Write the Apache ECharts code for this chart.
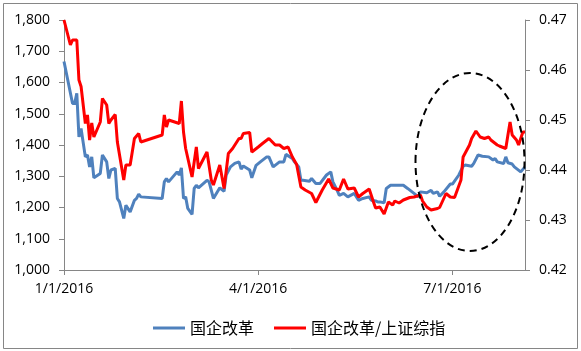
<!DOCTYPE html>
<html>
<head>
<meta charset="utf-8">
<script src="https://cdn.jsdelivr.net/npm/echarts@6/dist/echarts.min.js"></script>
<style>
  html, body { margin: 0; padding: 0; background: #fff; }
  #chart { width: 581px; height: 351px; }
</style>
</head>
<body>
<div id="chart"></div>
<script>
// 国企改革 指数 与 国企改革/上证综指 比值, 2016
var blueDates = [
  '2016-01-01', '2016-01-05', '2016-01-06', '2016-01-07', '2016-01-08', '2016-01-09', '2016-01-11', '2016-01-12',
  '2016-01-13', '2016-01-14', '2016-01-15', '2016-01-18', '2016-01-19', '2016-01-21', '2016-01-22', '2016-01-23',
  '2016-01-25', '2016-01-26', '2016-01-27', '2016-01-29', '2016-01-30', '2016-02-01', '2016-02-03', '2016-02-04',
  '2016-02-05', '2016-02-06', '2016-02-16', '2016-02-17', '2016-02-18', '2016-02-19', '2016-02-23', '2016-02-24',
  '2016-02-25', '2016-02-26', '2016-02-27', '2016-02-28', '2016-03-01', '2016-03-02', '2016-03-03', '2016-03-04',
  '2016-03-08', '2016-03-09', '2016-03-11', '2016-03-14', '2016-03-16', '2016-03-17', '2016-03-19', '2016-03-21',
  '2016-03-23', '2016-03-24', '2016-03-25', '2016-03-28', '2016-03-29', '2016-03-31', '2016-04-02', '2016-04-05',
  '2016-04-06', '2016-04-08', '2016-04-11', '2016-04-13', '2016-04-14', '2016-04-17', '2016-04-18', '2016-04-20',
  '2016-04-21', '2016-04-22', '2016-04-25', '2016-04-26', '2016-04-28', '2016-04-30', '2016-05-03', '2016-05-05',
  '2016-05-06', '2016-05-08', '2016-05-09', '2016-05-11', '2016-05-13', '2016-05-16', '2016-05-18', '2016-05-20',
  '2016-05-23', '2016-05-24', '2016-05-26', '2016-05-27', '2016-05-28', '2016-05-30', '2016-05-31', '2016-06-02',
  '2016-06-08', '2016-06-10', '2016-06-13', '2016-06-15', '2016-06-16', '2016-06-19', '2016-06-21', '2016-06-22',
  '2016-06-24', '2016-06-25', '2016-06-27', '2016-06-30', '2016-07-01', '2016-07-04', '2016-07-06', '2016-07-07',
  '2016-07-10', '2016-07-11', '2016-07-13', '2016-07-15', '2016-07-18', '2016-07-20', '2016-07-21', '2016-07-22',
  '2016-07-25', '2016-07-26', '2016-07-27', '2016-07-29', '2016-07-30', '2016-08-02', '2016-08-04'
];
var blueValues = [
  1667, 1533, 1533, 1565, 1426, 1453, 1362, 1368,
  1330, 1362, 1295, 1309, 1368, 1346, 1293, 1320,
  1325, 1229, 1218, 1165, 1207, 1186, 1223, 1229,
  1243, 1234, 1229, 1282, 1293, 1282, 1314, 1304,
  1327, 1229, 1234, 1197, 1178, 1261, 1271, 1263,
  1287, 1282, 1229, 1263, 1252, 1304, 1330, 1341,
  1346, 1323, 1333, 1320, 1295, 1335, 1346, 1362,
  1362, 1330, 1346, 1346, 1370, 1357, 1346, 1330,
  1287, 1287, 1284, 1293, 1277, 1277, 1304, 1314,
  1282, 1255, 1239, 1245, 1234, 1245, 1223, 1229,
  1234, 1223, 1221, 1218, 1218, 1215, 1261, 1271,
  1271, 1261, 1245, 1234, 1250, 1247, 1255, 1245,
  1250, 1236, 1250, 1275, 1275, 1304, 1332, 1336,
  1332, 1341, 1368, 1364, 1362, 1352, 1357, 1346,
  1341, 1362, 1343, 1339, 1330, 1314, 1330
];
var redDates = [
  '2016-01-01', '2016-01-04', '2016-01-05', '2016-01-07', '2016-01-08', '2016-01-09', '2016-01-11', '2016-01-12',
  '2016-01-13', '2016-01-14', '2016-01-15', '2016-01-18', '2016-01-19', '2016-01-21', '2016-01-22', '2016-01-23',
  '2016-01-25', '2016-01-26', '2016-01-29', '2016-01-30', '2016-02-01', '2016-02-03', '2016-02-05', '2016-02-06',
  '2016-02-16', '2016-02-17', '2016-02-18', '2016-02-19', '2016-02-24', '2016-02-25', '2016-02-26', '2016-02-27',
  '2016-03-01', '2016-03-03', '2016-03-04', '2016-03-08', '2016-03-10', '2016-03-11', '2016-03-14', '2016-03-16',
  '2016-03-18', '2016-03-20', '2016-03-23', '2016-03-24', '2016-03-25', '2016-03-28', '2016-03-29', '2016-04-01',
  '2016-04-03', '2016-04-06', '2016-04-09', '2016-04-11', '2016-04-13', '2016-04-15', '2016-04-17', '2016-04-19',
  '2016-04-21', '2016-04-23', '2016-04-26', '2016-04-28', '2016-05-01', '2016-05-04', '2016-05-06', '2016-05-09',
  '2016-05-11', '2016-05-13', '2016-05-16', '2016-05-18', '2016-05-20', '2016-05-23', '2016-05-25', '2016-05-26',
  '2016-05-28', '2016-05-30', '2016-06-01', '2016-06-03', '2016-06-04', '2016-06-06', '2016-06-08', '2016-06-11',
  '2016-06-13', '2016-06-16', '2016-06-17', '2016-06-19', '2016-06-21', '2016-06-24', '2016-06-25', '2016-06-28',
  '2016-06-30', '2016-07-02', '2016-07-05', '2016-07-06', '2016-07-09', '2016-07-10', '2016-07-12', '2016-07-14',
  '2016-07-16', '2016-07-18', '2016-07-19', '2016-07-22', '2016-07-23', '2016-07-26', '2016-07-27', '2016-07-28',
  '2016-07-29', '2016-07-31', '2016-08-01', '2016-08-03', '2016-08-04'
];
var redValues = [
  0.4700, 0.4650, 0.4660, 0.4660, 0.4580, 0.4567, 0.4493, 0.4510,
  0.4460, 0.4494, 0.4466, 0.4496, 0.4543, 0.4530, 0.4493, 0.4500,
  0.4511, 0.4456, 0.4380, 0.4410, 0.4410, 0.4463, 0.4473, 0.4456,
  0.4470, 0.4510, 0.4486, 0.4500, 0.4493, 0.4538, 0.4476, 0.4443,
  0.4386, 0.4446, 0.4403, 0.4436, 0.4380, 0.4370, 0.4410, 0.4363,
  0.4433, 0.4443, 0.4463, 0.4463, 0.4473, 0.4475, 0.4436, 0.4446,
  0.4453, 0.4463, 0.4450, 0.4450, 0.4443, 0.4446, 0.4426, 0.4411,
  0.4366, 0.4360, 0.4353, 0.4335, 0.4360, 0.4382, 0.4364, 0.4360,
  0.4382, 0.4362, 0.4364, 0.4346, 0.4353, 0.4362, 0.4336, 0.4324,
  0.4326, 0.4312, 0.4336, 0.4330, 0.4338, 0.4334, 0.4340, 0.4345,
  0.4346, 0.4350, 0.4338, 0.4326, 0.4320, 0.4323, 0.4325, 0.4353,
  0.4346, 0.4345, 0.4380, 0.4426, 0.4450, 0.4463, 0.4478, 0.4466,
  0.4463, 0.4466, 0.4460, 0.4450, 0.4448, 0.4443, 0.4470, 0.4496,
  0.4470, 0.4460, 0.4450, 0.4476, 0.4476
];
var seriesNames = ['国企改革', '国企改革/上证综指'];
var xStart = '2016-01-01';
var xEnd = '2016-08-04';
var xTickDates = ['2016-01-01', '2016-04-01', '2016-07-01'];

(function() {
  var DAY = 86400000;
  function toDay(s) {
    var p = s.split('-');
    return Math.round((Date.UTC(+p[0], +p[1] - 1, +p[2]) - Date.UTC(2016, 0, 1)) / DAY);
  }
  function dayLabel(d) {
    var dt = new Date(Date.UTC(2016, 0, 1) + d * DAY);
    return (dt.getUTCMonth() + 1) + '/' + dt.getUTCDate() + '/' + dt.getUTCFullYear();
  }
  function pairs(dates, vals) {
    return dates.map(function(s, i) { return [toDay(s), vals[i]]; });
  }

  var axisGray = '#868686';
  var font = '"Open Sans", "Noto Sans", sans-serif';
  var tickDays = xTickDates.map(toDay);

  var chart = echarts.init(document.getElementById('chart'), null, { renderer: 'canvas' });

  chart.setOption({
    animation: false,
    backgroundColor: '#fff',
    textStyle: { fontFamily: font },
    grid: { left: 64, right: 56, top: 20, bottom: 81 },
    legend: {
      data: seriesNames,
      left: 148,
      top: 315,
      icon: 'rect',
      itemWidth: 32,
      itemHeight: 3,
      itemGap: 20,
      textStyle: { color: '#000', fontSize: 16, fontFamily: '"Noto Sans CJK SC", sans-serif' }
    },
    xAxis: {
      type: 'value',
      min: toDay(xStart),
      max: toDay(xEnd),
      interval: 91,
      axisLine: { show: true, lineStyle: { color: axisGray, width: 1 } },
      axisTick: { show: true, length: 5, customValues: tickDays, lineStyle: { color: axisGray } },
      axisLabel: {
        customValues: tickDays,
        margin: 12,
        color: '#000',
        fontSize: 14,
        fontFamily: font,
        formatter: function(v) { return dayLabel(v); }
      },
      splitLine: { show: false }
    },
    yAxis: [
      {
        type: 'value',
        position: 'left',
        min: 1000,
        max: 1800,
        interval: 100,
        axisLine: { show: true, lineStyle: { color: axisGray, width: 1 } },
        axisTick: { show: true, length: 5, lineStyle: { color: axisGray } },
        axisLabel: {
          margin: 14,
          color: '#000',
          fontSize: 14,
          fontFamily: font,
          formatter: function(v) { return v.toLocaleString('en-US'); }
        },
        splitLine: { show: false }
      },
      {
        type: 'value',
        position: 'right',
        min: 0.42,
        max: 0.47,
        interval: 0.01,
        axisLine: { show: true, lineStyle: { color: axisGray, width: 1 } },
        axisTick: { show: true, length: 5, lineStyle: { color: axisGray } },
        axisLabel: {
          margin: 14,
          color: '#000',
          fontSize: 14,
          fontFamily: font,
          formatter: function(v) { return v.toFixed(2); }
        },
        splitLine: { show: false }
      }
    ],
    series: [
      {
        name: seriesNames[0],
        type: 'line',
        yAxisIndex: 0,
        data: pairs(blueDates, blueValues),
        symbol: 'none',
        itemStyle: { color: '#4F81BD' },
        lineStyle: { color: '#4F81BD', width: 3 },
        z: 2
      },
      {
        name: seriesNames[1],
        type: 'line',
        yAxisIndex: 1,
        data: pairs(redDates, redValues),
        symbol: 'none',
        itemStyle: { color: '#FF0000' },
        lineStyle: { color: '#FF0000', width: 3 },
        z: 3
      }
    ],
    graphic: [
      {
        type: 'rect',
        shape: { x: 3.5, y: 3.5, width: 574, height: 345 },
        style: { fill: null, stroke: axisGray, lineWidth: 1 },
        silent: true
      },
      {
        type: 'ellipse',
        shape: { cx: 470, cy: 162, rx: 54.5, ry: 89 },
        style: { fill: null, stroke: '#000', lineWidth: 2, lineDash: [7, 5] },
        z: 10,
        silent: true
      }
    ]
  });

  window.addEventListener('resize', function() { chart.resize(); });
})();
</script>
</body>
</html>
